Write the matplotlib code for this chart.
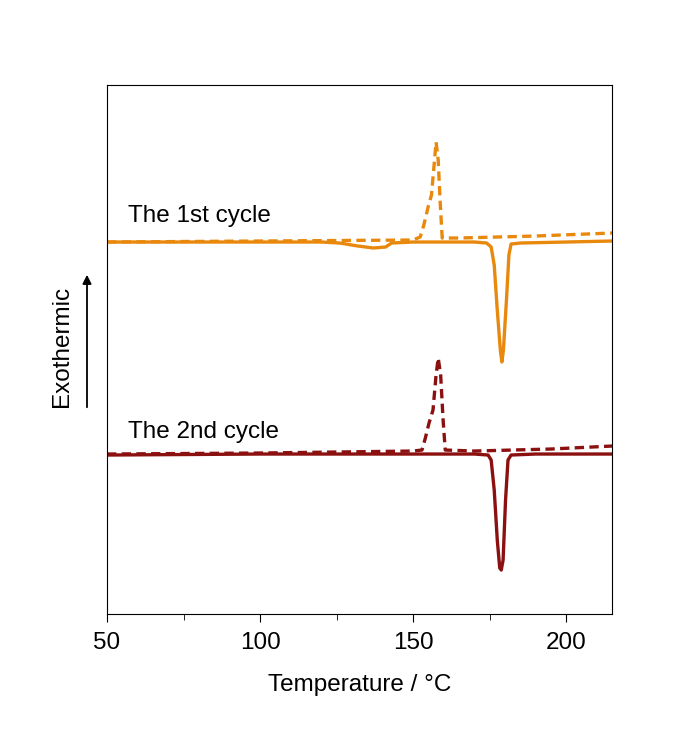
import matplotlib.pyplot as plt

plt.rcParams['font.family'] = ['Liberation Sans', 'DejaVu Sans']

# 1st cycle, heating (solid) and cooling (dashed), heat flow in a.u.
t1_heat = [50, 120, 126, 132, 137, 141, 143, 150, 170, 174, 175.5, 176.5, 177.5, 178.5, 179, 179.5, 180.5, 181.3, 182, 185, 200, 215]
h1_heat = [372, 372, 371, 368, 366, 367, 371, 372, 372, 371, 367, 349, 304, 264, 252, 264, 314, 359, 370, 371, 372, 373]
t1_cool = [50, 100, 150, 152.3, 153.5, 154.9, 156, 157, 157.5, 158.2, 158.8, 159.5, 165, 190, 215]
h1_cool = [372, 373, 374, 377, 389, 407, 419, 454, 472, 454, 414, 376, 376, 378, 381]

# 2nd cycle
t2_heat = [50, 100, 170, 174.5, 175.5, 176.5, 177.5, 178.3, 178.8, 179.4, 180.2, 181, 182, 190, 215]
h2_heat = [159, 160, 160, 159, 154, 124, 74, 46, 44, 54, 114, 154, 159, 160, 160]
t2_cool = [50, 100, 150, 152.9, 154, 155.2, 156.5, 157.5, 158.2, 159, 159.8, 160.5, 170, 195, 215]
h2_cool = [160, 161, 163, 164, 176, 191, 204, 239, 256, 239, 194, 164, 163, 165, 168]

orange = '#E8890E'
darkred = '#8B1010'

fig = plt.figure(figsize=(6.74, 7.31), dpi=100)
ax = fig.add_axes([0.1588, 0.16, 0.7493, 0.7237])

ax.plot(t1_heat, h1_heat, '-', color=orange, lw=2.4)
ax.plot(t1_cool, h1_cool, '--', color=orange, lw=2.4, dashes=(2.8, 1.6))
ax.plot(t2_heat, h2_heat, '-', color=darkred, lw=2.4)
ax.plot(t2_cool, h2_cool, '--', color=darkred, lw=2.4, dashes=(2.8, 1.6))

ax.text(56.7, 392, 'The 1st cycle', fontsize=17.5, va='baseline')
ax.text(56.7, 176, 'The 2nd cycle', fontsize=17.5, va='baseline')

ax.set_xlim(50, 215)
ax.set_ylim(0, 529)
ax.set_xticks([50, 100, 150, 200])
ax.set_xticks([75, 125, 175], minor=True)
ax.tick_params(axis='x', which='major', direction='out', length=6, labelsize=17.5, pad=7)
ax.tick_params(axis='x', which='minor', direction='out', length=4)
ax.set_yticks([])
ax.set_xlabel('Temperature / \u00b0C', fontsize=17.5, labelpad=14)

# Exothermic arrow on the left
fig.patches.append(plt.matplotlib.patches.FancyArrowPatch(
    (87 / 674, 1 - 410 / 731), (87 / 674, 1 - 272 / 731),
    transform=fig.transFigure, arrowstyle='-|>', mutation_scale=13, color='black', lw=1.3))
fig.text(62 / 674, 1 - 346 / 731, 'Exothermic', rotation=90, fontsize=17.5, ha='center', va='center')

fig.savefig('out.png', dpi=100)
